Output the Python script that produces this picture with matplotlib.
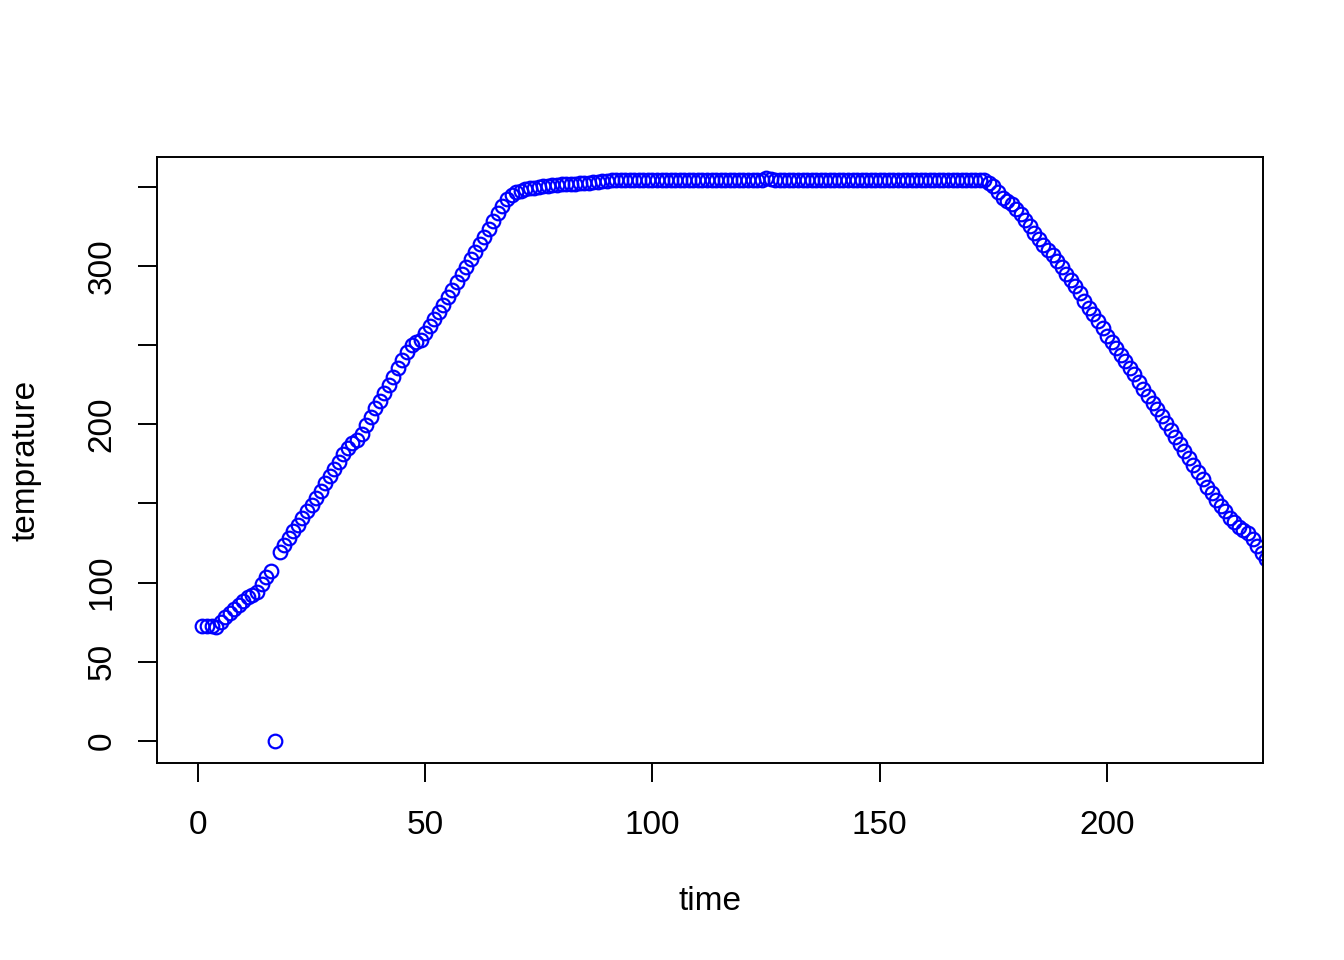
import numpy as np
import matplotlib
matplotlib.use('Agg')
import matplotlib.pyplot as plt

plt.rcParams['font.family'] = ['Liberation Sans', 'DejaVu Sans']

# temperature readings, one per time step (time = 1, 2, 3, ...)
rise = [72.5, 72.5, 72.5, 72, 75, 78, 81, 83.5, 86, 88.5,
        91, 92.5, 94, 99, 103.5, 107.5, 0, 119.5, 124, 128.5,
        132.5, 136.5, 141, 145.5, 149, 153.5, 158, 163, 167.5, 172,
        176.5, 181, 185, 188, 190, 194, 199.5, 204.5, 210, 215,
        220, 225, 230, 235.5, 240.5, 245.5, 250, 252, 253, 257.5,
        262, 266.5, 271, 275.5, 280.5, 285, 290, 295, 299.5, 304.5,
        309, 314, 318.5, 323.5, 328.5, 333.5, 338, 342, 345, 346.5,
        347.5, 348.5, 349, 349.5, 350, 350.5, 350.5, 351, 351, 351.5,
        352, 352, 352, 352.5, 352.5, 352.5, 353, 353, 353.5, 353.5,
        354, 354, 354, 354.5]
plateau = [354.5, 354.5, 354.5, 354.5, 354.5, 354.5, 354.5, 354.5, 354, 354,
           354.5, 354.5, 354.5, 354.5, 354.5, 354.5, 354.5, 354.5, 354.5, 354.5,
           354.5, 354.5, 354.5, 354.5, 354.5, 354.5, 354.5, 354.5, 354.5, 354.5,
           355.5, 355, 354.5, 354, 354, 354.5, 354.5, 354.5, 354.5, 354.5,
           354.5, 354.5, 354.5, 354.5, 354.5, 354.5, 354.5, 354.5, 354.5, 354.5,
           354.5, 354.5, 354.5, 354.5, 354.5, 354.5, 354.5, 354.5, 354.5, 354.5,
           354.5, 354.5, 354.5, 354.5, 354.5, 354.5, 354.5, 354.5, 354.5, 354.5,
           354.5, 354.5, 354.5, 354.5, 354.5, 354.5, 354.5, 354.5, 354.5]
fall = [352.5, 350.5, 347, 343, 341, 339, 336, 333, 329, 325,
        321, 317, 313.5, 310, 307, 303, 299.5, 295, 291, 287.5,
        283, 278, 273.5, 269.5, 265, 260.5, 256, 252, 248, 244,
        240, 235.5, 231.5, 227, 222.5, 218, 213.5, 209.5, 205.5, 201,
        196.5, 192, 187.5, 183, 178.5, 174, 170, 165.5, 160.5, 156.5,
        152, 148.5, 145, 141, 138, 135, 133, 131.5, 127.5, 123,
        119, 115]

temprature = rise + plateau + fall
time = list(range(1, len(temprature) + 1))

x_ticks = [0, 50, 100, 150, 200]
y_ticks = [0, 50, 100, 150, 200, 250, 300, 350]
y_labels = ['0', '50', '100', '', '200', '', '300', '']

fig = plt.figure(figsize=(13.44, 9.6), dpi=100)
ax = fig.add_axes([157 / 1344, 1 - 763 / 960, (1263 - 157) / 1344, (763 - 157) / 960])

ax.plot(time, temprature, linestyle='none', marker='o', markersize=9.8,
        markerfacecolor='none', markeredgecolor='#0000FF', markeredgewidth=1.6)

ax.set_xlim(-9, 234.3)
ax.set_ylim(-13.9, 368.8)
ax.set_xticks(x_ticks)
ax.set_xticklabels([str(v) for v in x_ticks])
ax.set_yticks(y_ticks)
ax.set_yticklabels(y_labels, rotation=90, va='center')
ax.tick_params(axis='both', length=13.5, width=1.4, labelsize=24, color='black')
ax.tick_params(axis='x', pad=20)
ax.tick_params(axis='y', pad=15)
for s in ax.spines.values():
    s.set_linewidth(1.4)
    s.set_color('black')

fig.text(710 / 1344, 1 - 901 / 960, 'time', fontsize=24, ha='center', va='center')
fig.text(26 / 1344, 1 - 460 / 960, 'temprature', fontsize=24, ha='center', va='center', rotation=90)

fig.savefig('out.png', dpi=100)
